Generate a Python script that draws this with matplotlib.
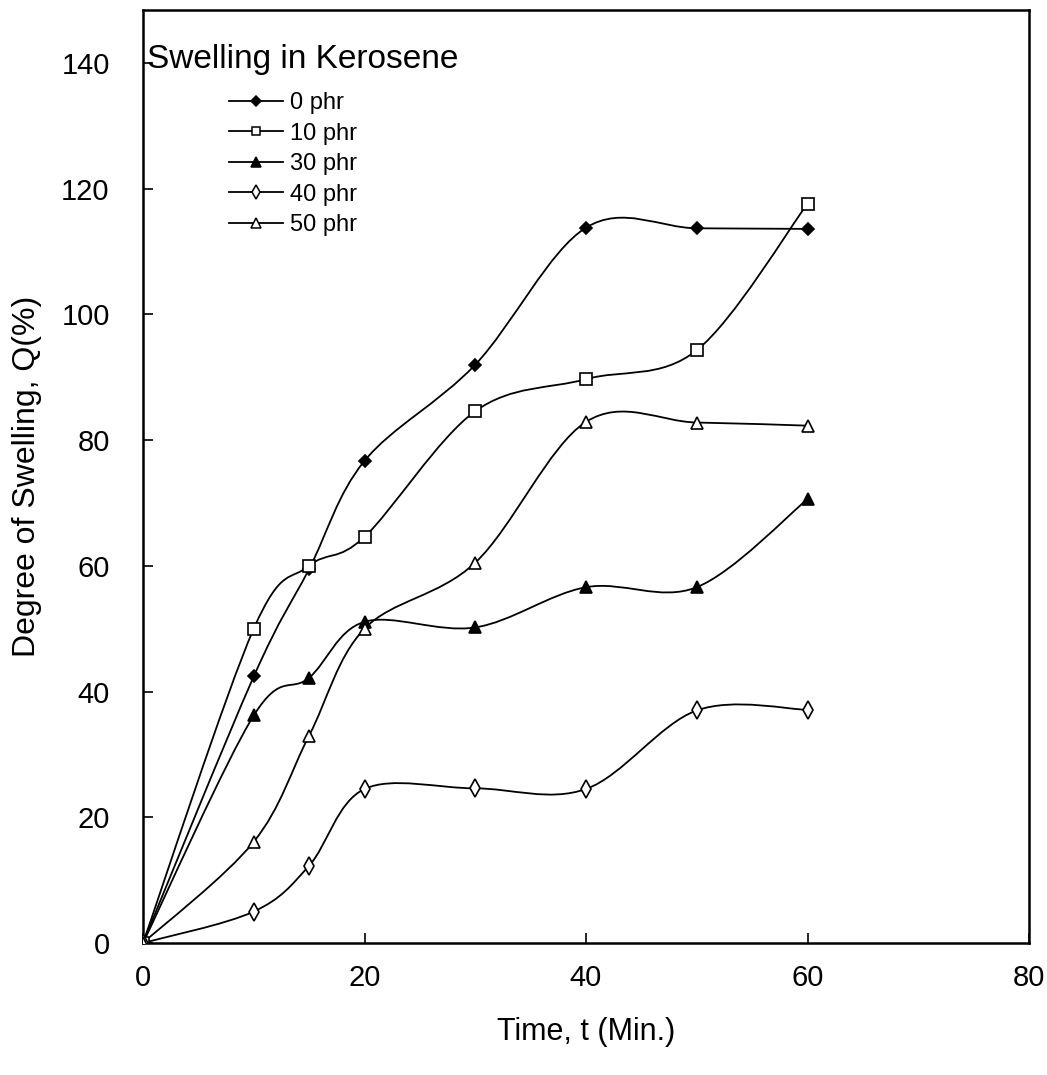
import numpy as np
import matplotlib
matplotlib.use("Agg")
import matplotlib.pyplot as plt
from matplotlib import font_manager
from matplotlib.path import Path
from matplotlib.patches import PathPatch
from matplotlib.lines import Line2D

# ---------------- data ----------------
time_min = [0, 10, 15, 20, 30, 40, 50, 60]

phr0 = [0, 42.4, 59.5, 76.7, 92.0, 113.8, 113.7, 113.6]
phr10 = [0, 50.0, 60.0, 64.6, 84.6, 89.7, 94.3, 117.6]
phr30 = [0, 36.2, 42.2, 51.1, 50.2, 56.6, 56.6, 70.6]
phr40 = [0, 5.0, 12.3, 24.5, 24.6, 24.5, 37.0, 37.1]
phr50 = [0, 16.1, 33.0, 50.0, 60.5, 82.9, 82.8, 82.3]

labels = ["0 phr", "10 phr", "30 phr", "40 phr", "50 phr"]
x_ticks = [0, 20, 40, 60, 80]
y_ticks = [0, 20, 40, 60, 80, 100, 120, 140]

plt.rcParams['font.family'] = ['Liberation Sans', 'DejaVu Sans']
installed = {f.name for f in font_manager.fontManager.ttflist}
leg_family = 'Liberation Sans Narrow' if 'Liberation Sans Narrow' in installed else 'Liberation Sans'

W, H = 1047, 1075
fig = plt.figure(figsize=(W / 100, H / 100), dpi=100)
ax = fig.add_axes([143 / W, (H - 943) / H, 886 / W, 933 / H])


def smooth_path(x, y):
    pts = np.column_stack([x, y]).astype(float)
    n = len(pts)
    verts = [pts[0]]
    codes = [Path.MOVETO]
    for i in range(n - 1):
        p0 = pts[i - 1] if i > 0 else pts[i]
        p1 = pts[i]
        p2 = pts[i + 1]
        p3 = pts[i + 2] if i + 2 < n else pts[i + 1]
        c1 = p1 + (p2 - p0) / 6.0
        c2 = p2 - (p3 - p1) / 6.0
        verts += [c1, c2, p2]
        codes += [Path.CURVE4] * 3
    return Path(verts, codes)


series = [
    (phr0, dict(marker='D', mfc='black', ms=6.5)),
    (phr10, dict(marker='s', mfc='white', ms=8.5)),
    (phr30, dict(marker='^', mfc='black', ms=9)),
    (phr40, dict(marker='d', mfc='white', ms=9)),
    (phr50, dict(marker='^', mfc='white', ms=9)),
]

handles = []
for (q, st), lab in zip(series, labels):
    patch = PathPatch(smooth_path(time_min, q), facecolor='none', edgecolor='black',
                      lw=1.3, transform=ax.transData, zorder=2)
    ax.add_patch(patch)
    ax.plot(time_min, q, linestyle='none', marker=st['marker'], mfc=st['mfc'],
            mec='black', mew=1.2, ms=st['ms'], zorder=3)
    handles.append(Line2D([], [], color='black', lw=1.3, marker=st['marker'],
                          mfc=st['mfc'], mec='black', mew=1.1,
                          ms=st['ms'] * 0.75, label=lab))

ax.set_xlim(0, 80)
ax.set_ylim(0, 933 / 6.286)
ax.set_xticks(x_ticks)
ax.set_yticks(y_ticks)
ax.tick_params(direction='in', length=7, width=1.2, labelsize=21, top=False, right=False)
ax.tick_params(axis='x', pad=15)
ax.tick_params(axis='y', pad=24)
for sp in ax.spines.values():
    sp.set_linewidth(1.8)
    sp.set_color('black')

ax.set_xlabel("Time, t (Min.)", fontsize=22, labelpad=18)
ax.set_ylabel("Degree of Swelling, Q(%)", fontsize=23, labelpad=14)

ax.text(0.004, 140.6, "Swelling in Kerosene", fontsize=24, ha='left', va='center',
        transform=ax.get_yaxis_transform())

leg = ax.legend(handles=handles, loc='upper left', bbox_to_anchor=(0.097, 0.912),
                frameon=False, handlelength=2.3, handletextpad=0.3,
                labelspacing=0.36, borderpad=0, borderaxespad=0,
                prop={'family': leg_family, 'size': 17})

fig.savefig("out.png", dpi=100, facecolor='white')
